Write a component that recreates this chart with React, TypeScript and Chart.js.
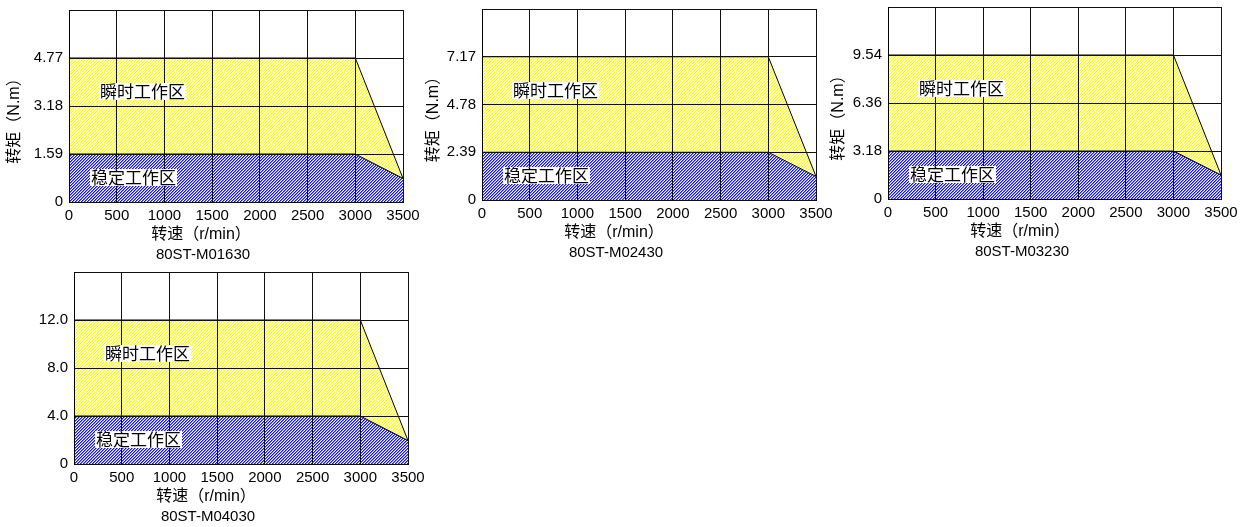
import { useEffect, useRef } from 'react';
import { Chart, registerables } from 'chart.js';

Chart.register(...registerables);

// ---------- data ----------
const speedTicks = [0, 500, 1000, 1500, 2000, 2500, 3000, 3500];
const speedTickLabels = ['0', '500', '1000', '1500', '2000', '2500', '3000', '3500'];
const curveSpeeds = [0, 3000, 3500];

const models = ['80ST-M01630', '80ST-M02430', '80ST-M03230', '80ST-M04030'];
const ratedTorque = [1.59, 2.39, 3.18, 4.0];
const peakTorque = [4.77, 7.17, 9.54, 12.0];
const endTorque = [0.78, 1.18, 1.59, 1.95];

const torqueTicks = [
  [0, 1.59, 3.18, 4.77, 6.36],
  [0, 2.39, 4.78, 7.17, 9.56],
  [0, 3.18, 6.36, 9.54, 12.72],
  [0, 4, 8, 12, 16],
];
const torqueTickLabels = [
  ['0', '1.59', '3.18', '4.77', ''],
  ['0', '2.39', '4.78', '7.17', ''],
  ['0', '3.18', '6.36', '9.54', ''],
  ['0', '4.0', '8.0', '12.0', ''],
];
const showTorqueTitle = [true, true, true, false];

const speedTitle = '转速（r/min）';
const torqueTitle = '转矩（N.m）';
const peakZoneLabel = '瞬时工作区';
const ratedZoneLabel = '稳定工作区';

// ---------- layout ----------
const layouts = [
  { plotL: 69, plotT: 10, plotR: 403, plotB: 202, canvasL: 0, canvasT: 0, titleDx: -54 },
  { plotL: 482, plotT: 9, plotR: 816, plotB: 200, canvasL: 413, canvasT: 0, titleDx: -48 },
  { plotL: 888, plotT: 7, plotR: 1221, plotB: 199, canvasL: 819, canvasT: 0, titleDx: -49 },
  { plotL: 74, plotT: 272, plotR: 408, plotB: 464, canvasL: 5, canvasT: 262, titleDx: -50 },
];
const X_AXIS_H = 22;
const LATIN_CJK = "'Liberation Sans', 'Noto Sans CJK SC', sans-serif";
const CJK = "'Noto Sans CJK SC', sans-serif";

function makeHatch(strong: string, soft: string): CanvasPattern | string {
  const c = document.createElement('canvas');
  c.width = 3;
  c.height = 3;
  const ctx = c.getContext('2d');
  if (!ctx) return strong;
  for (let x = 0; x < 3; x++) {
    for (let y = 0; y < 3; y++) {
      const k = (x + y) % 3;
      ctx.fillStyle = k === 0 ? strong : k === 1 ? soft : '#ffffff';
      ctx.fillRect(x, y, 1, 1);
    }
  }
  return ctx.createPattern(c, 'repeat') || strong;
}

const annotPlugin = {
  id: 'annot',
  afterDraw(chart: any) {
    const o = chart.options.plugins.annot;
    const { ctx } = chart;
    const { left, top, bottom } = chart.chartArea;
    ctx.save();
    ctx.fillStyle = '#000';
    ctx.textBaseline = 'middle';

    const boxed = (text: string, x: number, y: number) => {
      ctx.font = `17px ${CJK}`;
      const w = ctx.measureText(text).width;
      ctx.fillStyle = '#ffffff';
      ctx.fillRect(x - 1, y - 9, w + 2, 17);
      ctx.fillStyle = '#000';
      ctx.textAlign = 'left';
      ctx.fillText(text, x, y);
    };
    boxed(o.peakLabel, left + 31, top + 82);
    boxed(o.ratedLabel, left + 22, bottom - 24);

    ctx.textAlign = 'center';
    ctx.font = `16px ${LATIN_CJK}`;
    ctx.fillText(o.xTitle, left + 132, bottom + 33);
    ctx.font = `15px ${LATIN_CJK}`;
    ctx.fillText(o.model, left + 134, bottom + 53);

    if (o.showY) {
      ctx.font = `16px ${LATIN_CJK}`;
      ctx.translate(left + o.titleDx, (top + bottom) / 2 + 11);
      ctx.rotate(-Math.PI / 2);
      ctx.textAlign = 'center';
      ctx.fillText(o.yTitle, 0, 0);
    }
    ctx.restore();
  },
};

function TorqueChart({ idx }: { idx: number }) {
  const ref = useRef<HTMLCanvasElement>(null);
  const L = layouts[idx];
  const cw = L.plotR - L.canvasL + 26;
  const ch = L.plotB - L.canvasT + 66;

  useEffect(() => {
    const canvas = ref.current;
    if (!canvas) return;
    const peakCurve = [peakTorque[idx], peakTorque[idx], endTorque[idx]];
    const ratedCurve = [ratedTorque[idx], ratedTorque[idx], endTorque[idx]];
    const yTicks = torqueTicks[idx];
    const yLabels = torqueTickLabels[idx];

    const chart = new Chart(canvas, {
      type: 'line',
      data: {
        datasets: [
          {
            label: ratedZoneLabel,
            data: curveSpeeds.map((x, i) => ({ x, y: ratedCurve[i] })),
            fill: 'origin',
            backgroundColor: makeHatch('#1010ff', '#8080ff') as any,
            borderColor: '#000',
            borderWidth: 1,
            pointRadius: 0,
            tension: 0,
          },
          {
            label: peakZoneLabel,
            data: curveSpeeds.map((x, i) => ({ x, y: peakCurve[i] })),
            fill: 'origin',
            backgroundColor: makeHatch('#ffff00', '#ffff90') as any,
            borderColor: '#000',
            borderWidth: 1,
            pointRadius: 0,
            tension: 0,
          },
        ],
      },
      options: {
        animation: false,
        responsive: false,
        maintainAspectRatio: false,
        events: [],
        layout: {
          padding: {
            left: 0,
            top: L.plotT - L.canvasT,
            right: cw - (L.plotR - L.canvasL),
            bottom: ch - (L.plotB - L.canvasT) - X_AXIS_H,
          },
        },
        plugins: {
          legend: { display: false },
          tooltip: { enabled: false },
          annot: {
            peakLabel: peakZoneLabel,
            ratedLabel: ratedZoneLabel,
            xTitle: speedTitle,
            yTitle: torqueTitle,
            model: models[idx],
            showY: showTorqueTitle[idx],
            titleDx: L.titleDx,
          },
        } as any,
        scales: {
          x: {
            type: 'linear',
            min: speedTicks[0],
            max: speedTicks[speedTicks.length - 1],
            afterBuildTicks: (scale: any) => {
              scale.ticks = speedTicks.map((v) => ({ value: v }));
            },
            afterFit: (scale: any) => {
              scale.height = X_AXIS_H;
              scale.paddingLeft = 0;
              scale.paddingRight = 0;
            },
            grid: { color: '#111', lineWidth: 1, drawTicks: false, z: 1 },
            border: { color: '#000', width: 1, z: 1 },
            ticks: {
              autoSkip: false,
              maxRotation: 0,
              padding: 5,
              color: '#000',
              font: { size: 15, family: LATIN_CJK },
              callback: (_v: any, i: number) => speedTickLabels[i],
            },
          },
          y: {
            type: 'linear',
            min: yTicks[0],
            max: yTicks[yTicks.length - 1],
            afterBuildTicks: (scale: any) => {
              scale.ticks = yTicks.map((v) => ({ value: v }));
            },
            afterFit: (scale: any) => {
              scale.width = L.plotL - L.canvasL;
              scale.paddingTop = 0;
              scale.paddingBottom = 0;
            },
            grid: { color: '#111', lineWidth: 1, drawTicks: false, z: 1 },
            border: { color: '#000', width: 1, z: 1 },
            ticks: {
              padding: 6,
              color: '#000',
              font: { size: 15, family: LATIN_CJK },
              callback: (_v: any, i: number) => yLabels[i],
            },
          },
        },
      },
      plugins: [annotPlugin],
    } as any);
    return () => chart.destroy();
  }, [idx]);

  return (
    <canvas
      ref={ref}
      width={cw}
      height={ch}
      style={{ position: 'absolute', left: L.canvasL, top: L.canvasT, width: cw, height: ch }}
    />
  );
}

export default function App() {
  return (
    <div
      style={{
        position: 'absolute',
        left: 0,
        top: 0,
        width: 1257,
        height: 527,
        overflow: 'hidden',
        background: '#ffffff',
      }}
    >
      {models.map((_, i) => (
        <TorqueChart key={i} idx={i} />
      ))}
    </div>
  );
}
